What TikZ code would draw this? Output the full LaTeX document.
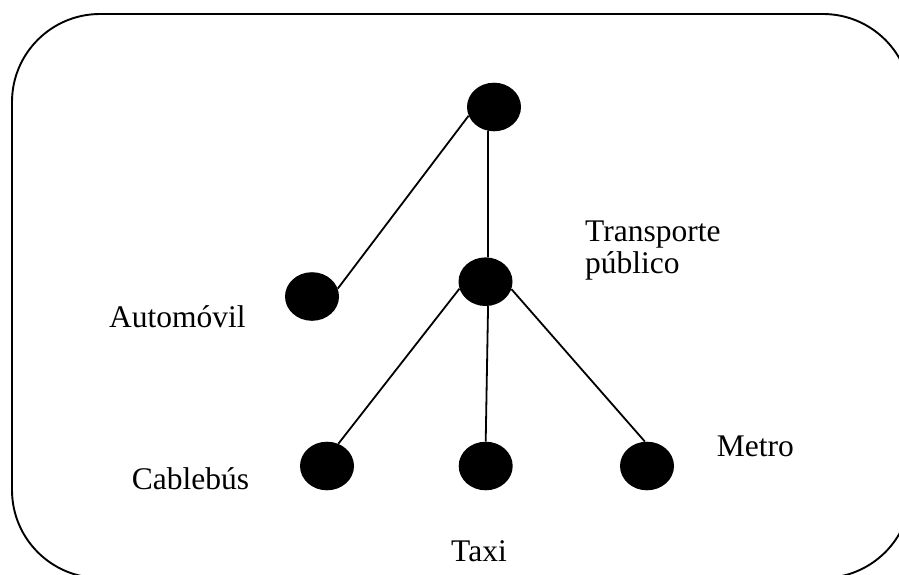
\documentclass[tikz,border=0pt]{standalone}
\usepackage{fontspec}
\setmainfont{Liberation Serif}
\usetikzlibrary{shapes.geometric}
\begin{document}
\begin{tikzpicture}[x=1pt,y=-1pt,
  dot/.style={ellipse,fill=black,draw=none,inner sep=0pt,minimum width=54pt,minimum height=48.6pt},
  lbl/.style={anchor=base west,inner sep=0pt,font=\fontsize{31.5}{31.6}\selectfont},
  link/.style={draw=black,line width=1.8pt},
  frame/.style={draw=black,line width=1.9pt,rounded corners=88pt}]
\useasboundingbox (0,0) rectangle (899,574);
\clip (0,0) rectangle (899,574);
\draw[frame] (12,14) rectangle (911,578);
\node[dot] (top) at (494,107) {};
\node[dot] (trans) at (485.5,281.7) {};
\node[dot] (auto) at (312,296.5) {};
\node[dot] (cab) at (327,466) {};
\node[dot] (taxi) at (485.7,466) {};
\node[dot] (metro) at (647,466) {};
\draw[link] (top.199.6) -- (auto.17.7);
\draw[link] (top.256) -- (trans.84);
\draw[link] (trans.195.8) -- (cab.63.5);
\draw[link] (trans.276) -- (taxi.90);
\draw[link] (trans.344.2) -- (metro.95);
\node[lbl,align=left] (ltrans) at (585,273.3) {Transporte\\público};
\node[lbl] (lauto) at (109,327.3) {Automóvil};
\node[lbl] (lcab) at (131.7,489.3) {Cablebús};
\node[lbl] (lmetro) at (716.7,456.7) {Metro};
\node[lbl] (ltaxi) at (451,561) {Taxi};
\end{tikzpicture}
\end{document}
